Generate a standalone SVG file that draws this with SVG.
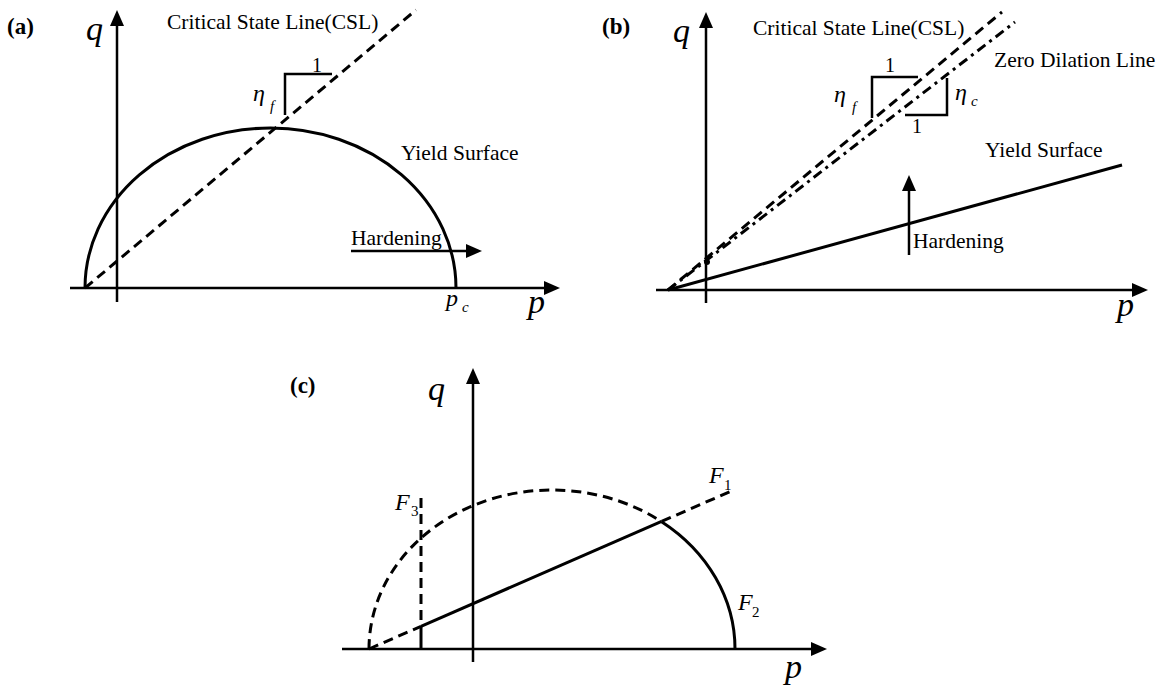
<svg xmlns="http://www.w3.org/2000/svg" width="1165" height="690" viewBox="0 0 1165 690" font-family="Liberation Serif, Tinos, Times New Roman, DejaVu Serif, serif">
<style>
.ax{stroke:#000;stroke-width:2.5;fill:none}
.cv{stroke:#000;stroke-width:3;fill:none}
.ds{stroke:#000;stroke-width:3;fill:none;stroke-dasharray:10 6}
.dd{stroke:#000;stroke-width:3;fill:none;stroke-dasharray:10 5 3 5}
.br{stroke:#000;stroke-width:2.5;fill:none}
text{fill:#000}
.lab{font-size:23px;font-weight:bold}
.t{font-size:21.5px}
.big{font-size:34px;font-style:italic}
.eta{font-size:24px;font-style:italic}
.sub{font-size:15px;font-style:italic}
.one{font-size:20px}
.F{font-size:24px;font-style:italic}
.fs{font-size:15px}
</style>
<defs>
<marker id="arr" viewBox="0 0 16 14" refX="8" refY="7" markerWidth="16" markerHeight="14" markerUnits="userSpaceOnUse" orient="auto">
<path d="M0,0 L16,7 L0,14 z" fill="#000"/>
</marker>
</defs>

<g id="panel-a">
<g id="a-connectors">
<line class="ax" x1="117" y1="302" x2="117" y2="18" marker-end="url(#arr)"/>
<line class="ax" x1="70" y1="288" x2="552" y2="288" marker-end="url(#arr)"/>
<path class="cv" d="M85,288 A185.5,160 0 0 1 456,288"/>
<line class="ds" x1="85" y1="288" x2="416" y2="10"/>
<polyline class="br" points="285,115 285,74 332,74"/>
<line class="ax" x1="351" y1="251" x2="474" y2="251" marker-end="url(#arr)"/>
</g>
<g id="a-labels">
<text class="lab" x="7" y="34">(a)</text>
<text class="big" x="86" y="40">q</text>
<text class="t" x="167" y="29">Critical State Line(CSL)</text>
<text class="one" x="317" y="72" text-anchor="middle">1</text>
<text class="eta" x="253" y="101">η</text>
<text class="sub" x="270" y="111">f</text>
<text class="t" x="401" y="160">Yield Surface</text>
<text class="t" x="351" y="245">Hardening</text>
<text class="eta" x="446" y="306">p</text>
<text class="sub" x="462" y="312">c</text>
<text class="big" x="528" y="313">p</text>
</g>
</g>

<g id="panel-b">
<g id="b-connectors">
<line class="ax" x1="706" y1="303" x2="706" y2="20" marker-end="url(#arr)"/>
<line class="ax" x1="656" y1="290" x2="1140" y2="290" marker-end="url(#arr)"/>
<line class="cv" x1="668" y1="290" x2="1122" y2="165"/>
<line class="ds" x1="668" y1="290" x2="1002" y2="12"/>
<line class="dd" x1="668" y1="290" x2="1015" y2="22"/>
<polyline class="br" points="872,118 872,77 918,77"/>
<polyline class="br" points="947,78 947,115 905,115"/>
<line class="ax" x1="909" y1="255" x2="909" y2="183" marker-end="url(#arr)"/>
<circle cx="707" cy="262" r="3" fill="#000"/>
</g>
<g id="b-labels">
<text class="lab" x="602" y="34">(b)</text>
<text class="big" x="673" y="42">q</text>
<text class="t" x="753" y="35">Critical State Line(CSL)</text>
<text class="t" x="994" y="67">Zero Dilation Line</text>
<text class="one" x="890" y="72" text-anchor="middle">1</text>
<text class="eta" x="834" y="102">η</text>
<text class="sub" x="852" y="112">f</text>
<text class="eta" x="955" y="100">η</text>
<text class="sub" x="971" y="106">c</text>
<text class="one" x="917" y="133" text-anchor="middle">1</text>
<text class="t" x="985" y="157">Yield Surface</text>
<text class="t" x="913" y="248">Hardening</text>
<text class="big" x="1117" y="316">p</text>
</g>
</g>

<g id="panel-c">
<g id="c-connectors">
<line class="ax" x1="473" y1="662" x2="473" y2="376" marker-end="url(#arr)"/>
<line class="ax" x1="342" y1="649" x2="819" y2="649" marker-end="url(#arr)"/>
<path class="ds" d="M369,649 A183,159 0 0 1 661.6,521.7"/>
<path class="cv" d="M661.6,521.7 A183,159 0 0 1 735,649"/>
<line class="ds" x1="369" y1="649" x2="421" y2="626.3"/>
<line class="cv" x1="421" y1="626.3" x2="661.6" y2="521.4"/>
<line class="ds" x1="661.6" y1="521.4" x2="731" y2="491.2"/>
<line class="ds" x1="421" y1="498" x2="421" y2="626"/>
<line class="cv" x1="421" y1="626" x2="421" y2="649"/>
</g>
<g id="c-labels">
<text class="lab" x="290" y="393">(c)</text>
<text class="big" x="428" y="400">q</text>
<text class="F" x="709" y="483">F</text>
<text class="fs" x="724" y="490">1</text>
<text class="F" x="395" y="510">F</text>
<text class="fs" x="411" y="516">3</text>
<text class="F" x="738" y="610">F</text>
<text class="fs" x="752" y="617">2</text>
<text class="big" x="785" y="678">p</text>
</g>
</g>
</svg>
